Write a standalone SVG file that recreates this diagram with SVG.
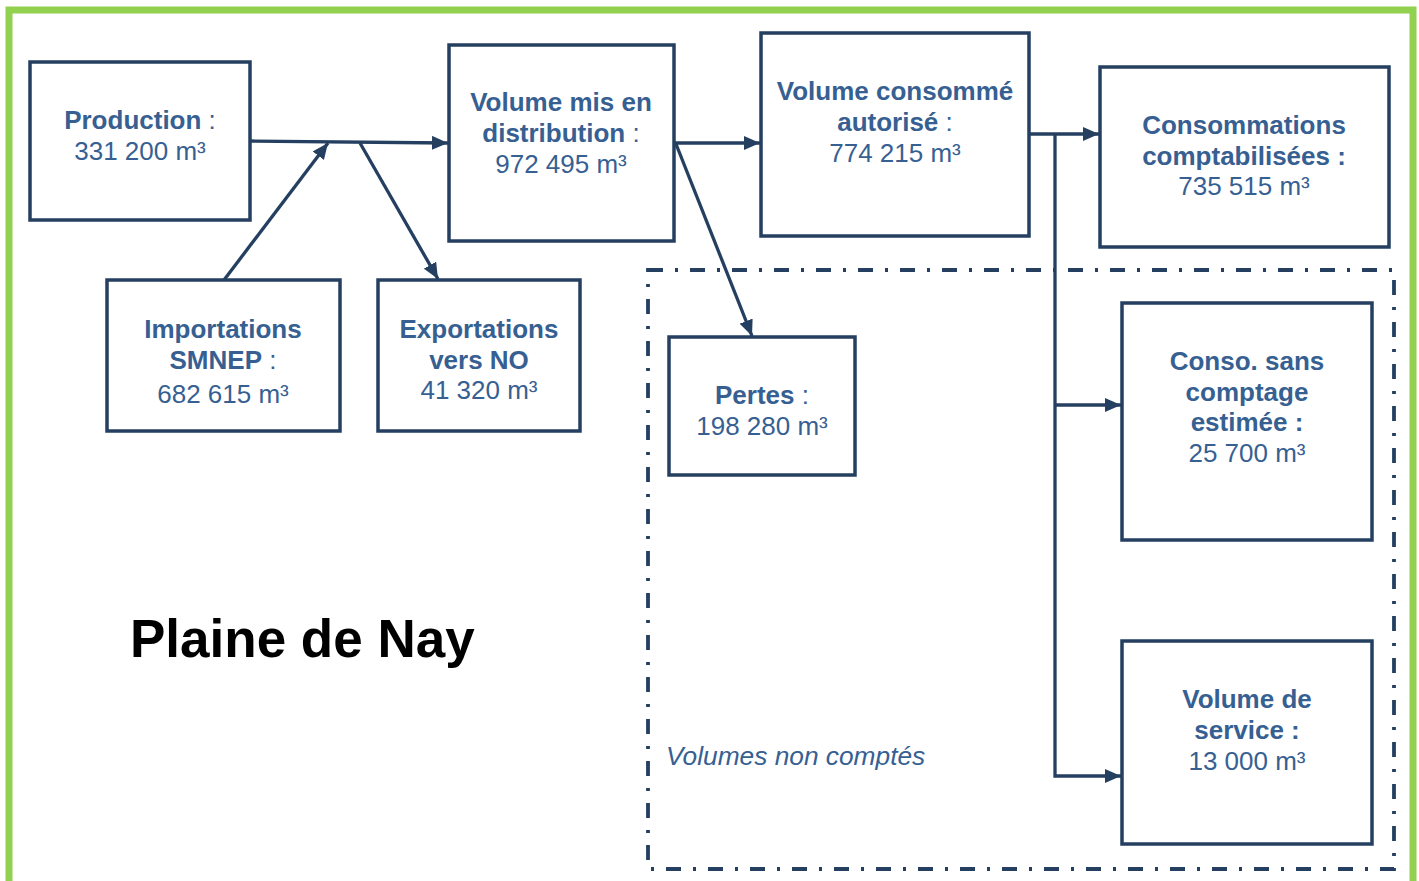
<svg xmlns="http://www.w3.org/2000/svg" width="1419" height="881" viewBox="0 0 1419 881">
<style>
.box{fill:#fff;stroke:#243f60;stroke-width:3.5}
.t{font-family:"Liberation Sans",Arial,sans-serif;font-size:26px;fill:#376092;text-anchor:middle}
.b{font-weight:bold}
.c{stroke:#243f60;stroke-width:3.3;fill:none}
</style>
<defs>
<marker id="ah" markerUnits="userSpaceOnUse" markerWidth="16" markerHeight="14" refX="16" refY="7" orient="auto">
<path d="M0,0 L16,7 L0,14 z" fill="#243f60"/>
</marker>
</defs>
<rect width="1419" height="881" fill="#fff"/>
<rect x="9" y="10" width="1404" height="900" fill="none" stroke="#92d050" stroke-width="7"/>
<rect id="non-comptes" x="648" y="270" width="746" height="599" fill="none" stroke="#243f60" stroke-width="3.8" stroke-dasharray="15 12 3 12"/>
<g id="connectors">
<line class="c" x1="251" y1="141" x2="448" y2="143" marker-end="url(#ah)"/>
<line class="c" x1="224" y1="280" x2="328" y2="143" marker-end="url(#ah)"/>
<line class="c" x1="360" y1="143" x2="438" y2="279" marker-end="url(#ah)"/>
<line class="c" x1="675" y1="143" x2="760" y2="143" marker-end="url(#ah)"/>
<line class="c" x1="676" y1="144" x2="752" y2="336" marker-end="url(#ah)"/>
<line class="c" x1="1030" y1="134" x2="1099" y2="134" marker-end="url(#ah)"/>
<polyline class="c" points="1055,134 1055,776 1121,776" marker-end="url(#ah)"/>
<line class="c" x1="1055" y1="405" x2="1121" y2="405" marker-end="url(#ah)"/>
</g>
<g id="production">
<rect class="box" x="30" y="62" width="220" height="158"/>
<text class="t" x="140" y="129"><tspan class="b">Production</tspan> :</text>
<text class="t" x="140" y="160">331 200 m³</text>
</g>
<g id="distribution">
<rect class="box" x="449" y="45" width="225" height="196"/>
<text class="t b" x="561" y="111">Volume mis en</text>
<text class="t" x="561" y="142"><tspan class="b">distribution</tspan> :</text>
<text class="t" x="561" y="173">972 495 m³</text>
</g>
<g id="consomme">
<rect class="box" x="761" y="33" width="268" height="203"/>
<text class="t b" x="895" y="100">Volume consommé</text>
<text class="t" x="895" y="131"><tspan class="b">autorisé</tspan> :</text>
<text class="t" x="895" y="162">774 215 m³</text>
</g>
<g id="comptabilisees">
<rect class="box" x="1100" y="67" width="289" height="180"/>
<text class="t b" x="1244" y="134">Consommations</text>
<text class="t b" x="1244" y="165">comptabilisées :</text>
<text class="t" x="1244" y="195">735 515 m³</text>
</g>
<g id="importations">
<rect class="box" x="107" y="280" width="233" height="151"/>
<text class="t b" x="223" y="338">Importations</text>
<text class="t" x="223" y="369"><tspan class="b">SMNEP</tspan> :</text>
<text class="t" x="223" y="403">682 615 m³</text>
</g>
<g id="exportations">
<rect class="box" x="378" y="280" width="202" height="151"/>
<text class="t b" x="479" y="338">Exportations</text>
<text class="t b" x="479" y="369">vers NO</text>
<text class="t" x="479" y="399">41 320 m³</text>
</g>
<g id="pertes">
<rect class="box" x="669" y="337" width="186" height="138"/>
<text class="t" x="762" y="404"><tspan class="b">Pertes</tspan> :</text>
<text class="t" x="762" y="435">198 280 m³</text>
</g>
<g id="sans-comptage">
<rect class="box" x="1122" y="303" width="250" height="237"/>
<text class="t b" x="1247" y="370">Conso. sans</text>
<text class="t b" x="1247" y="401">comptage</text>
<text class="t b" x="1247" y="431">estimée :</text>
<text class="t" x="1247" y="462">25 700 m³</text>
</g>
<g id="service">
<rect class="box" x="1122" y="641" width="250" height="203"/>
<text class="t b" x="1247" y="708">Volume de</text>
<text class="t b" x="1247" y="739">service :</text>
<text class="t" x="1247" y="770">13 000 m³</text>
</g>
<text x="666" y="765" font-family="Liberation Sans,Arial,sans-serif" font-size="26.3" font-style="italic" fill="#376092">Volumes non comptés</text>
<text x="130" y="657" font-family="Liberation Sans,Arial,sans-serif" font-size="53" font-weight="bold" fill="#000">Plaine de Nay</text>
</svg>
